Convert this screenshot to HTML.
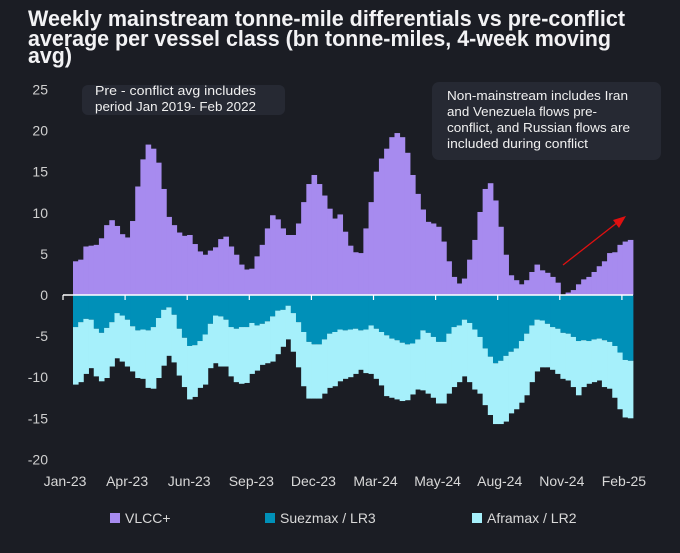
<!DOCTYPE html>
<html><head><meta charset="utf-8"><style>
html,body{margin:0;padding:0;background:#1b1d24;}
svg{display:block;font-family:"Liberation Sans",sans-serif;}
</style></head><body>
<svg id="chart" width="680" height="553" viewBox="0 0 680 553" xmlns="http://www.w3.org/2000/svg">
<rect width="680" height="553" fill="#1b1d24"/>
<g fill="#f2f2f4" font-weight="bold" font-size="22">
<text x="28" y="26" textLength="597" lengthAdjust="spacingAndGlyphs">Weekly mainstream tonne-mile differentials vs pre-conflict</text>
<text x="28" y="46" textLength="583" lengthAdjust="spacingAndGlyphs">average per vessel class (bn tonne-miles, 4-week moving</text>
<text x="28" y="63" textLength="44" lengthAdjust="spacingAndGlyphs">avg)</text>
</g>
<g id="yaxis"></g>
<g id="bars"></g>
<g id="xaxis"></g>
<g>
<rect x="82" y="85" width="203" height="30" rx="6" fill="#262933"/>
<text x="95" y="95" fill="#f0f0f0" font-size="12.5" textLength="161" lengthAdjust="spacingAndGlyphs">Pre - conflict avg  includes</text>
<text x="95" y="111" fill="#f0f0f0" font-size="12.5" textLength="161" lengthAdjust="spacingAndGlyphs">period Jan 2019- Feb 2022</text>
</g>
<g>
<rect x="432" y="82" width="229" height="78" rx="7" fill="#262933"/>
<text x="447" y="100" fill="#f0f0f0" font-size="12.5" textLength="181" lengthAdjust="spacingAndGlyphs">Non-mainstream includes Iran</text>
<text x="447" y="116" fill="#f0f0f0" font-size="12.5" textLength="150" lengthAdjust="spacingAndGlyphs">and Venezuela flows pre-</text>
<text x="447" y="132" fill="#f0f0f0" font-size="12.5" textLength="183" lengthAdjust="spacingAndGlyphs">conflict, and Russian flows are</text>
<text x="447" y="148" fill="#f0f0f0" font-size="12.5" textLength="141" lengthAdjust="spacingAndGlyphs">included during conflict</text>
</g>
<g>
<line x1="563" y1="265" x2="618" y2="222" stroke="#e01010" stroke-width="1.3"/>
<polygon points="626,216 613,220 619,228" fill="#e01010"/>
</g>
<g font-size="14" fill="#d8d8d8">
<g><rect x="110" y="513" width="10" height="10" fill="#a78bef"/><text x="125" y="523">VLCC+</text></g>
<g><rect x="265" y="513" width="10" height="10" fill="#0090b8"/><text x="280" y="523">Suezmax / LR3</text></g>
<g><rect x="472" y="513" width="10" height="10" fill="#a6f0fb"/><text x="487" y="523">Aframax / LR2</text></g>
</g>
</svg>
<script>
const xLabels = ["Jan-23","Apr-23","Jun-23","Sep-23","Dec-23","Mar-24","May-24","Aug-24","Nov-24","Feb-25"];
const yTicks = [25,20,15,10,5,0,-5,-10,-15,-20];
const vlcc = [4.1,4.3,5.9,6.0,6.1,6.9,8.5,9.1,8.4,7.4,7.0,9.0,13.2,16.5,18.3,17.8,16.1,12.9,9.5,8.5,7.6,7.2,7.3,6.2,5.3,4.9,5.4,5.8,6.8,7.1,5.9,4.9,3.7,3.1,3.2,4.7,6.1,8.1,9.7,9.2,8.1,7.3,7.3,8.7,11.3,13.5,14.6,13.5,12.1,10.5,9.3,9.8,7.7,6.0,5.2,5.1,8.1,11.3,15.0,16.6,17.8,19.2,19.7,19.2,17.3,14.6,12.3,10.4,8.9,8.7,8.3,6.5,4.1,2.2,1.4,2.0,4.3,6.7,10.1,12.9,13.6,11.5,8.3,4.9,2.4,1.8,1.3,1.8,2.8,3.7,3.0,2.7,2.2,1.5,0.05,0.3,0.6,1.3,1.9,2.2,2.8,3.5,4.1,5.1,5.2,6.1,6.5,6.7];
const suezmax = [-3.9,-3.3,-2.9,-3.0,-4.1,-4.6,-4.0,-3.3,-2.2,-2.5,-3.0,-3.8,-4.3,-4.2,-4.3,-3.9,-2.8,-1.8,-1.5,-2.4,-4.1,-5.2,-6.2,-6.1,-5.6,-4.8,-3.5,-2.5,-2.6,-3.0,-3.9,-4.1,-3.9,-3.9,-3.4,-3.7,-3.5,-3.2,-2.6,-1.9,-1.8,-1.3,-2.2,-3.3,-4.5,-5.7,-6.0,-6.0,-5.4,-4.7,-4.5,-4.2,-4.3,-4.2,-4.1,-4.3,-4.2,-3.7,-4.1,-4.5,-4.9,-5.3,-5.5,-5.8,-6.0,-5.9,-5.4,-4.3,-4.6,-5.1,-5.7,-5.7,-4.7,-3.9,-3.7,-3.0,-3.4,-4.2,-5.1,-6.5,-7.5,-8.3,-8.0,-7.4,-6.9,-6.5,-5.6,-4.7,-3.7,-3.0,-3.1,-3.5,-3.9,-4.1,-4.6,-4.7,-5.1,-5.6,-5.5,-5.6,-5.4,-5.3,-5.5,-5.7,-6.2,-7.0,-7.9,-8.0];
const aframax = [-7.0,-7.3,-6.7,-5.9,-5.8,-5.9,-6.1,-5.4,-5.5,-5.6,-5.7,-5.5,-5.8,-6.0,-7.0,-7.5,-7.3,-6.8,-5.9,-5.8,-5.7,-6.0,-6.5,-6.3,-5.7,-6.1,-5.4,-5.8,-6.1,-5.7,-6.0,-6.5,-6.9,-6.8,-6.2,-5.5,-5.0,-5.1,-5.5,-5.3,-4.5,-4.1,-4.7,-5.5,-6.6,-6.9,-6.6,-6.6,-6.6,-6.6,-6.6,-6.3,-5.9,-5.8,-5.5,-4.8,-5.3,-5.9,-6.1,-6.5,-7.4,-7.2,-7.2,-7.1,-6.8,-6.2,-6.1,-7.3,-7.4,-7.4,-7.5,-7.5,-7.3,-7.3,-6.9,-6.9,-7.2,-7.3,-6.9,-6.9,-7.1,-7.4,-7.7,-8.0,-7.5,-7.4,-7.5,-7.5,-6.9,-6.3,-5.7,-5.3,-5.2,-5.5,-5.6,-5.7,-6.1,-6.6,-5.7,-5.2,-5.2,-5.1,-5.7,-5.7,-6.3,-6.9,-7.0,-7.0];

const NS = "http://www.w3.org/2000/svg";
const x0 = 73, x1 = 633;
const n = vlcc.length;
const bw = (x1 - x0) / n;
function xScale(i){ return x0 + i * bw; }
function yScale(v){ return 295 - v * 8.22; }
function mk(tag, attrs, parent){
  const e = document.createElementNS(NS, tag);
  for (const k in attrs) e.setAttribute(k, attrs[k]);
  parent.appendChild(e);
  return e;
}
const bars = document.getElementById('bars');
const yax = document.getElementById('yaxis');
const xax = document.getElementById('xaxis');

yTicks.forEach(t => {
  const tx = mk('text', {x: 48, y: yScale(t) + 5, 'text-anchor': 'end', 'font-size': 14, fill: '#cfcfcf'}, yax);
  tx.textContent = t;
  
  
});

for (let i = 0; i < n; i++) {
  const x = xScale(i);
  const w = bw + 0.4;
  const v = vlcc[i];
  const r1 = mk('rect', {x: x, y: Math.min(yScale(v), yScale(0)), width: w, height: Math.abs(yScale(v) - yScale(0)), fill: '#a78bef'}, bars);
  
  
  const s = suezmax[i];
  const r2 = mk('rect', {x: x, y: yScale(0), width: w, height: yScale(s) - yScale(0), fill: '#0090b8'}, bars);
  
  
  const a = aframax[i];
  const r3 = mk('rect', {x: x, y: yScale(s), width: w, height: yScale(s + a) - yScale(s), fill: '#a6f0fb'}, bars);
  
  
}

const zl = mk('line', {x1: 63, x2: 633, y1: yScale(0), y2: yScale(0), stroke: '#ffffff', 'stroke-width': 1.5}, xax);


const tickStep = 62.1;
xLabels.forEach((lab, i) => {
  const tx0 = 63 + i * tickStep;
  const tk = mk('line', {x1: tx0, x2: tx0, y1: yScale(0), y2: yScale(0) + 5, stroke: '#ffffff', 'stroke-width': 1.2}, xax);
  
  
  const t = mk('text', {x: tx0 + 2, y: 486, 'text-anchor': 'middle', 'font-size': 14, fill: '#d8d8d8'}, xax);
  t.textContent = lab;
  
  
});
</script>
</body></html>
